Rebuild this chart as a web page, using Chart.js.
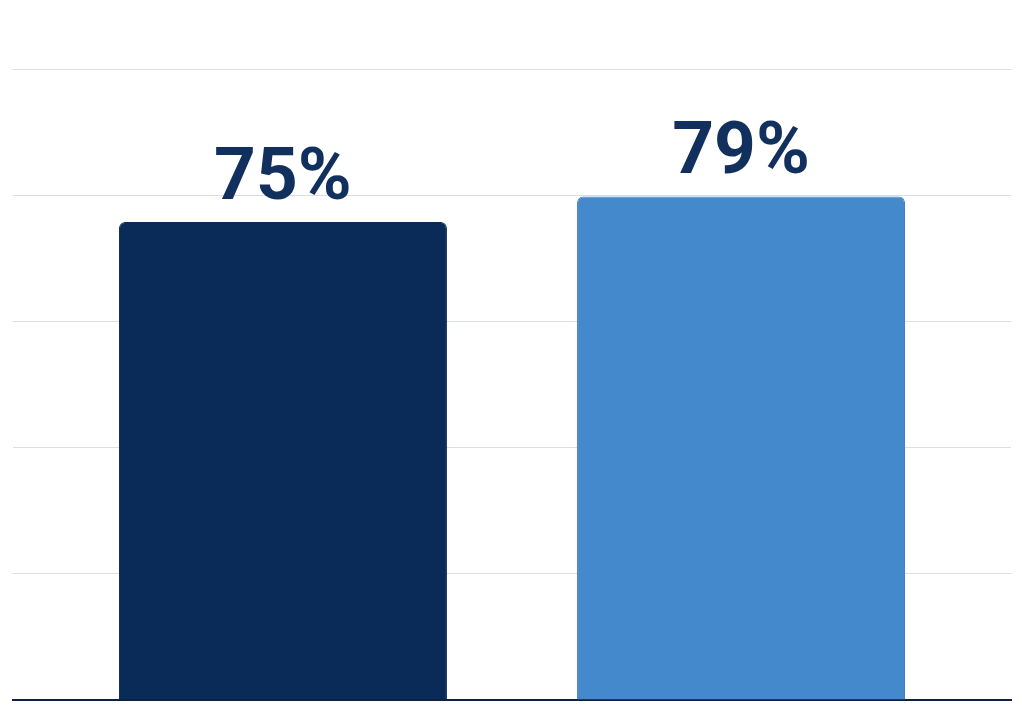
<!DOCTYPE html>
<html lang="en">
<head>
    <meta charset="UTF-8">
    <title>Comparison</title>
    <script src="https://cdn.jsdelivr.net/npm/chart.js"></script>
    <style>
        html, body {
            margin: 0;
            padding: 0;
            background: #ffffff;
        }
        .chart-box {
            width: 1022px;
            height: 724px;
            position: relative;
        }
    </style>
</head>
<body>
    <div class="chart-box">
        <canvas id="barChart"></canvas>
    </div>

    <script>
        // data
        const seriesNames = ['Group A', 'Group B'];
        const seriesValues = [75, 79];
        const valueLabels = ['75%', '79%'];
        const barColors = ['#0a2a57', '#4589cd'];
        const borderColors = ['#0a2a57', '#3b7dc5'];

        // draws the big percent labels over each bar
        const topLabels = {
            id: 'topLabels',
            afterDatasetsDraw(chart) {
                const ctx = chart.ctx;
                ctx.save();
                ctx.fillStyle = '#12305e';
                ctx.font = 'bold 73px Roboto, "DejaVu Sans", sans-serif';
                ctx.textAlign = 'center';
                ctx.textBaseline = 'alphabetic';
                chart.data.datasets.forEach((ds, i) => {
                    const bar = chart.getDatasetMeta(i).data[0];
                    ctx.fillText(valueLabels[i], bar.x, bar.y - 23);
                });
                ctx.restore();
            }
        };

        const datasets = seriesNames.map((name, i) => ({
            label: name,
            data: [seriesValues[i]],
            backgroundColor: barColors[i],
            borderColor: borderColors[i],
            borderWidth: 1,
            borderSkipped: 'bottom',
            borderRadius: { topLeft: 6, topRight: 6 },
            categoryPercentage: 0.918,
            barPercentage: 0.716
        }));

        new Chart(document.getElementById('barChart'), {
            type: 'bar',
            data: {
                labels: [''],
                datasets: datasets
            },
            options: {
                responsive: true,
                maintainAspectRatio: false,
                animation: false,
                layout: {
                    padding: { top: 69, bottom: 16, left: 13, right: 11 }
                },
                plugins: {
                    legend: { display: false },
                    tooltip: { enabled: false }
                },
                scales: {
                    x: {
                        grid: { display: false },
                        border: { display: true, color: '#0d2240', width: 2 },
                        ticks: { display: false }
                    },
                    y: {
                        min: 0,
                        max: 99,
                        ticks: { display: false, stepSize: 19.8 },
                        grid: { color: '#d9dee7', lineWidth: 1, drawTicks: false },
                        border: { display: false }
                    }
                }
            },
            plugins: [topLabels]
        });
    </script>
</body>
</html>
